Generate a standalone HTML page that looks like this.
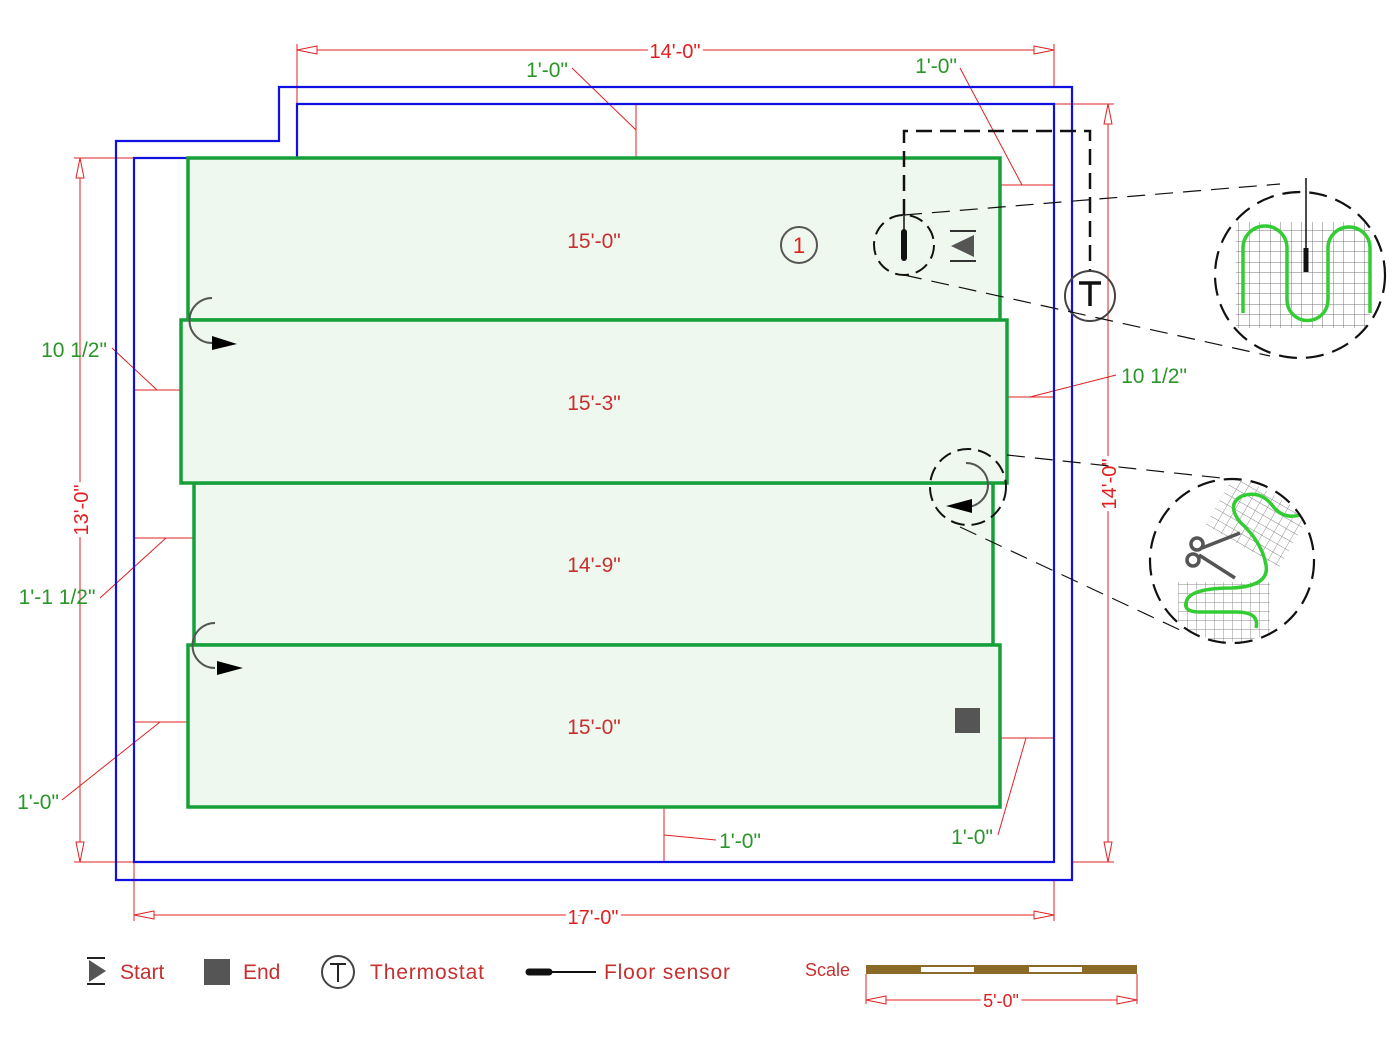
<!DOCTYPE html>
<html><head><meta charset="utf-8"><style>
html,body{margin:0;padding:0;background:#fff;width:1400px;height:1049px;overflow:hidden}
svg{display:block}
text{font-family:"Liberation Sans",sans-serif}
</style></head><body>
<svg width="1400" height="1049" viewBox="0 0 1400 1049" xmlns="http://www.w3.org/2000/svg">
<defs>
<pattern id="g" width="10.5" height="10.5" patternUnits="userSpaceOnUse"><path d="M10.5 0V10.5H0" fill="none" stroke="#777" stroke-width="1"/></pattern>
<pattern id="g2" width="9" height="9" patternUnits="userSpaceOnUse"><path d="M9 0V9H0" fill="none" stroke="#888" stroke-width="0.9"/></pattern>
<clipPath id="c1"><circle cx="1300" cy="275" r="84"/></clipPath>
<clipPath id="c2"><circle cx="1232" cy="561" r="81"/></clipPath>
<marker id="oa" viewBox="0 0 20 10" refX="20" refY="5" markerWidth="26" markerHeight="10" markerUnits="userSpaceOnUse" orient="auto-start-reverse"><path d="M0 1L20 5L0 9Z" fill="#fff" stroke="#e02020" stroke-width="1"/></marker>
</defs>

<!-- red dims -->
<g stroke="#e02020" stroke-width="1" fill="none">
<line x1="297" y1="50" x2="1054" y2="50" marker-start="url(#oa)" marker-end="url(#oa)"/>
<line x1="297" y1="44" x2="297" y2="104"/><line x1="1054" y1="44" x2="1054" y2="87"/>
<line x1="80" y1="158" x2="80" y2="862" marker-start="url(#oa)" marker-end="url(#oa)"/>
<line x1="74" y1="158" x2="188" y2="158"/><line x1="74" y1="862" x2="134" y2="862"/>
<line x1="1108" y1="104" x2="1108" y2="862" marker-start="url(#oa)" marker-end="url(#oa)"/>
<line x1="1054" y1="104" x2="1114" y2="104"/><line x1="1072" y1="862" x2="1114" y2="862"/>
<line x1="134" y1="915" x2="1054" y2="915" marker-start="url(#oa)" marker-end="url(#oa)"/>
<line x1="134" y1="862" x2="134" y2="921"/><line x1="1054" y1="880" x2="1054" y2="921"/>
<line x1="866" y1="1000" x2="1137" y2="1000" marker-start="url(#oa)" marker-end="url(#oa)"/>
<line x1="866" y1="974" x2="866" y2="1004"/><line x1="1137" y1="974" x2="1137" y2="1004"/>
<path d="M636 104V158M636 130L572 68"/>
<path d="M1000 185H1054M1022 185L960 68"/>
<path d="M134 390H181M157 390L112 348"/>
<path d="M1007 397H1054M1030 397L1116 375"/>
<path d="M134 538H194M166 538L100 598"/>
<path d="M134 722H188M160 722L62 800"/>
<path d="M664 807V862M664 835L716 840"/>
<path d="M1000 738H1054M1026 738L998 835"/>
</g>

<!-- walls -->
<path d="M116 141H279V87H1072V880H116Z" fill="none" stroke="#1010e0" stroke-width="2.2"/>
<path d="M134 158H297V104H1054V862H134Z" fill="none" stroke="#1010e0" stroke-width="2.2"/>

<!-- mats -->
<g fill="#eef8ee" stroke="#17a03a" stroke-width="3.5">
<rect x="188" y="158" width="812" height="162"/>
<rect x="194" y="483" width="799" height="162"/>
<rect x="181" y="320" width="826" height="163"/>
<rect x="188" y="645" width="812" height="162"/>
</g>

<g fill="#e02020" font-size="20" text-anchor="middle" stroke="#fff" stroke-width="7" paint-order="stroke">
<text x="675" y="58">14'-0"</text>
<text x="593" y="924">17'-0"</text>
<text x="1001" y="1007" font-size="18">5'-0"</text>
<text transform="translate(88,510) rotate(-90)">13'-0"</text>
<text transform="translate(1116,484) rotate(-90)">14'-0"</text>
</g>
<g fill="#c83030" font-size="21" text-anchor="middle">
<text x="594" y="248">15'-0"</text>
<text x="594" y="410">15'-3"</text>
<text x="594" y="572">14'-9"</text>
<text x="594" y="734">15'-0"</text>
</g>
<g fill="#2a962a" font-size="21" text-anchor="middle">
<text x="547" y="77">1'-0"</text>
<text x="936" y="73">1'-0"</text>
<text x="74" y="357">10 1/2"</text>
<text x="1154" y="383">10 1/2"</text>
<text x="57" y="604">1'-1 1/2"</text>
<text x="38" y="809">1'-0"</text>
<text x="740" y="848">1'-0"</text>
<text x="972" y="844">1'-0"</text>
</g>

<circle cx="799" cy="245" r="18" fill="none" stroke="#555" stroke-width="2"/>
<text x="799" y="253" font-size="22" fill="#e02020" text-anchor="middle">1</text>

<path d="M904 215V131H1090V272" fill="none" stroke="#111" stroke-width="2.5" stroke-dasharray="16,8"/>
<circle cx="904" cy="245" r="30" fill="none" stroke="#111" stroke-width="2" stroke-dasharray="14,7"/>
<line x1="904" y1="232" x2="904" y2="258" stroke="#111" stroke-width="6" stroke-linecap="round"/>
<line x1="904" y1="215" x2="904" y2="232" stroke="#111" stroke-width="1.5"/>
<circle cx="1090" cy="296" r="25" fill="none" stroke="#444" stroke-width="2"/>
<path d="M1079 283H1101M1090 283V306" stroke="#111" stroke-width="3.5" fill="none"/>
<path d="M950 231H976M950 261H976" stroke="#333" stroke-width="2"/>
<path d="M951 246L974 235V257Z" fill="#555"/>
<rect x="955" y="708" width="25" height="25" fill="#555"/>

<g fill="none" stroke="#555" stroke-width="2">
<path d="M212 298A22 22 0 0 0 212 343"/>
<path d="M215 623A22 22 0 0 0 215 668"/>
<path d="M966 463A22 22 0 0 1 966 507"/>
</g>
<path d="M212 336L237 344L212 350Z" fill="#000"/>
<path d="M217 661L243 668L217 675Z" fill="#000"/>
<path d="M972 499L946 506L972 513Z" fill="#000"/>
<circle cx="968" cy="487" r="38" fill="none" stroke="#111" stroke-width="2" stroke-dasharray="14,7"/>

<g stroke="#111" stroke-width="1.2" stroke-dasharray="18,10" fill="none">
<path d="M904 215L1280 184"/><path d="M904 275L1270 356"/>
<path d="M1007 455L1240 480"/><path d="M960 527L1180 630"/>
</g>

<g clip-path="url(#c1)"><rect x="1236" y="222" width="134" height="106" fill="url(#g)"/></g>
<path d="M1243 313V248A22 22 0 0 1 1287 248V300A20.5 20.5 0 0 0 1328 300V248A21 21 0 0 1 1370 248V313" fill="none" stroke="#33cc33" stroke-width="3.5"/>
<line x1="1306" y1="178" x2="1306" y2="250" stroke="#111" stroke-width="1.5"/>
<line x1="1306" y1="248" x2="1306" y2="272" stroke="#111" stroke-width="5"/>
<ellipse cx="1300" cy="275" rx="85" ry="83" fill="none" stroke="#111" stroke-width="2.2" stroke-dasharray="18,9"/>

<g clip-path="url(#c2)">
<rect x="1178" y="582" width="92" height="60" fill="url(#g2)"/>
<rect x="1215" y="490" width="85" height="60" fill="url(#g2)" transform="rotate(30 1257 520)"/>
</g>
<path d="M1256 628Q1260 612 1236 612H1200Q1180 612 1188 598Q1196 588 1232 588Q1270 586 1266 565Q1262 542 1240 522Q1226 504 1242 496Q1260 490 1272 505Q1283 520 1300 515" fill="none" stroke="#33cc33" stroke-width="3.5"/>
<g stroke="#555" stroke-width="3.5" fill="none">
<circle cx="1197" cy="544" r="6"/><circle cx="1193" cy="560" r="6"/>
<path d="M1202 548L1240 533M1199 555L1235 578"/>
</g>
<ellipse cx="1232" cy="561" rx="82" ry="82" fill="none" stroke="#111" stroke-width="2.2" stroke-dasharray="18,9"/>

<path d="M87 958H105M87 984H105" stroke="#222" stroke-width="2"/>
<path d="M89 960L106 971L89 982Z" fill="#555"/>
<text x="120" y="979" font-size="21" fill="#c83030">Start</text>
<rect x="204" y="959" width="26" height="26" fill="#555"/>
<text x="243" y="979" font-size="21" fill="#c83030">End</text>
<circle cx="338" cy="972" r="16" fill="none" stroke="#444" stroke-width="2"/>
<path d="M330 964H346M338 964V982" stroke="#222" stroke-width="2"/>
<text x="370" y="979" font-size="21" fill="#c83030" textLength="114">Thermostat</text>
<line x1="529" y1="972" x2="549" y2="972" stroke="#111" stroke-width="7" stroke-linecap="round"/>
<line x1="549" y1="972" x2="596" y2="972" stroke="#111" stroke-width="2"/>
<text x="604" y="979" font-size="21" fill="#c83030" textLength="126">Floor sensor</text>
<text x="805" y="976" font-size="18" fill="#c83030">Scale</text>
<rect x="866" y="965" width="271" height="9" fill="#8b6a28"/>
<rect x="921" y="967" width="53" height="5" fill="#fff"/>
<rect x="1029" y="967" width="53" height="5" fill="#fff"/>
</svg>
</body></html>
